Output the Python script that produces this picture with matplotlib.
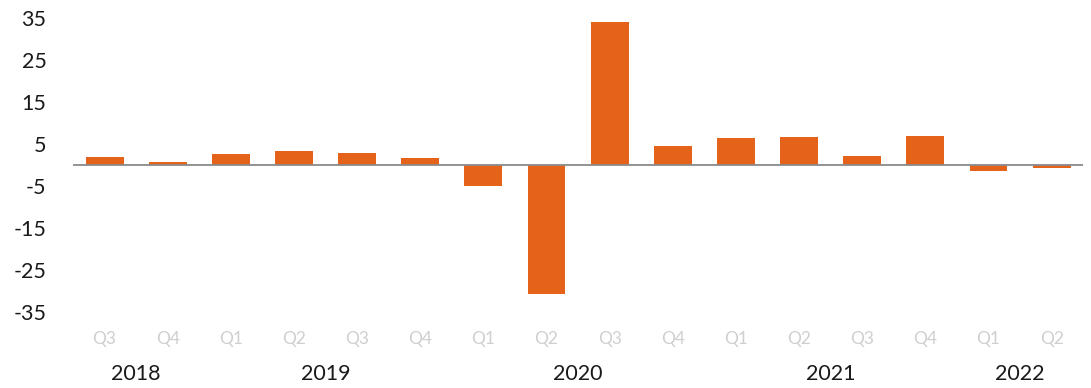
import numpy as np
import matplotlib.pyplot as plt

plt.rcParams['font.family'] = ['Lato', 'DejaVu Sans']

# Datos (variación trimestral, %)
quarters = ['Q3', 'Q4', 'Q1', 'Q2', 'Q3', 'Q4', 'Q1', 'Q2',
            'Q3', 'Q4', 'Q1', 'Q2', 'Q3', 'Q4', 'Q1', 'Q2']
values = [1.8, 0.8, 2.5, 3.2, 2.8, 1.7, -5.0, -30.7,
          34.0, 4.5, 6.3, 6.7, 2.2, 7.0, -1.5, -0.8]
years = ['2018', '2019', '2020', '2021', '2022']
year_counts = [2, 4, 4, 4, 2]
y_ticks = [35, 25, 15, 5, -5, -15, -25, -35]

bar_color = '#E5621B'

fig = plt.figure(figsize=(10.91, 3.88), dpi=100)
ax = fig.add_axes([0.0669, 0.196, 0.926, 0.7578])

x = np.arange(len(values))
ax.bar(x, values, width=0.6, color=bar_color, zorder=2)
ax.axhline(0, color='#8a8a8a', linewidth=1.3, zorder=3)

ax.set_xlim(-0.5, len(values) - 0.5)
ax.set_ylim(-35, 35)
ax.set_yticks(y_ticks)
ax.set_yticklabels([str(v) for v in y_ticks], fontsize=15.5, color='#1a1a1a')
ax.tick_params(axis='y', length=0, pad=19)

# Etiquetas de trimestre (gris claro)
ax.set_xticks(x)
ax.set_xticklabels(quarters, fontsize=12.5, color='#cfcfcf')
ax.tick_params(axis='x', length=0, pad=14)

# Etiquetas de año centradas bajo sus trimestres
start = 0
for yr, n in zip(years, year_counts):
    center = start + (n - 1) / 2
    ax.text(center, -0.211, yr, transform=ax.get_xaxis_transform(),
            ha='center', va='center', fontsize=15.5, color='#1a1a1a')
    start += n

for s in ax.spines.values():
    s.set_visible(False)

plt.savefig('out.png', dpi=100, facecolor='white')
